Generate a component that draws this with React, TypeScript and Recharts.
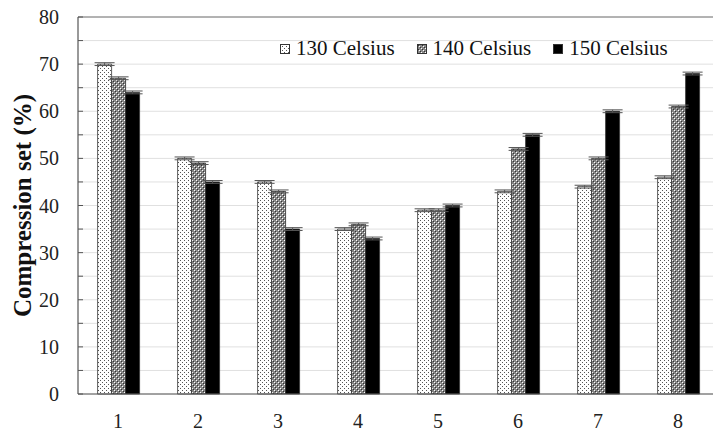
import React from 'react';
import { BarChart, Bar, XAxis, YAxis, CartesianGrid, ErrorBar, Legend, ReferenceLine } from 'recharts';

const samples = ['1', '2', '3', '4', '5', '6', '7', '8'];
const celsius130 = [70, 50, 45, 35, 39, 43, 44, 46];
const celsius140 = [67, 49, 43, 36, 39, 52, 50, 61];
const celsius150 = [64, 45, 35, 33, 40, 55, 60, 68];
const errorSize = [0.3, 0.3, 0.3, 0.3, 0.3, 0.3, 0.3, 0.3];
const yTicks = [0, 5, 10, 15, 20, 25, 30, 35, 40, 45, 50, 55, 60, 65, 70, 75, 80];

const seriesInfo = [
  { key: 't130', name: '130 Celsius', fill: 'url(#dotsLight)' },
  { key: 't140', name: '140 Celsius', fill: 'url(#dotsDense)' },
  { key: 't150', name: '150 Celsius', fill: '#000' },
];

const data = samples.map((s, i) => ({
  sample: s,
  t130: celsius130[i],
  t140: celsius140[i],
  t150: celsius150[i],
  err: errorSize[i],
}));

const FONT = 'Liberation Serif';

const LegendBox = () => (
  <div style={{ display: 'flex', alignItems: 'center', fontFamily: FONT, fontSize: 21, color: '#111' }}>
    {seriesInfo.map((s) => (
      <div key={s.key} style={{ display: 'flex', alignItems: 'center', marginRight: 22 }}>
        <svg width={10} height={10} style={{ marginRight: 6 }}>
          <rect x={0.5} y={0.5} width={9} height={9} fill={s.fill} stroke="#333" />
        </svg>
        <span>{s.name}</span>
      </div>
    ))}
  </div>
);

const App: React.FC = () => {
  return (
    <div style={{ position: 'absolute', left: 0, top: 0, width: 713, height: 438, overflow: 'hidden', background: '#fff' }}>
      <BarChart
        width={718}
        height={438}
        data={data}
        margin={{ top: 17, right: 0, left: 0, bottom: 0 }}
        barCategoryGap="24.5%"
        barGap={0}
      >
        <defs>
          <pattern id="dotsLight" width={4} height={4} patternUnits="userSpaceOnUse">
            <rect width={4} height={4} fill="#fff" />
            <rect x={0} y={0} width={1} height={1} fill="#555" />
            <rect x={2} y={2} width={1} height={1} fill="#555" />
          </pattern>
          <pattern id="dotsDense" width={4} height={4} patternUnits="userSpaceOnUse">
            <rect width={4} height={4} fill="#888" />
            <rect x={0} y={0} width={1} height={1} fill="#fff" />
            <rect x={2} y={2} width={1} height={1} fill="#fff" />
            <rect x={1} y={1} width={1} height={1} fill="#333" />
            <rect x={3} y={3} width={1} height={1} fill="#333" />
          </pattern>
        </defs>
        <CartesianGrid vertical={false} stroke="#e0e0e0" />
        <ReferenceLine y={80} stroke="#777" strokeWidth={1.2} />
        <XAxis
          dataKey="sample"
          height={44}
          tickLine={false}
          tickSize={0}
          axisLine={{ stroke: '#555', strokeWidth: 1.2 }}
          tick={{ fontFamily: FONT, fontSize: 20, fill: '#222' }}
          tickMargin={20}
        />
        <YAxis
          width={78}
          domain={[0, 80]}
          ticks={yTicks}
          interval={0}
          tickFormatter={(v: number) => (v % 10 === 0 ? String(v) : '')}
          axisLine={{ stroke: '#555', strokeWidth: 1.2 }}
          tickLine={{ stroke: '#555' }}
          tickSize={-5}
          tickMargin={24}
          tick={{ fontFamily: FONT, fontSize: 20, fill: '#222' }}
          label={{
            value: 'Compression set (%)',
            angle: -90,
            position: 'insideLeft',
            offset: 22,
            style: { fontFamily: FONT, fontSize: 25, fontWeight: 'bold', fill: '#111', textAnchor: 'middle' },
          }}
        />
        {/* centered + middle so the legend reserves no space from the plot area */}
        <Legend
          verticalAlign="middle"
          align="center"
          layout="horizontal"
          content={<LegendBox />}
          wrapperStyle={{ top: 36, left: 280, width: 430 }}
        />
        {seriesInfo.map((s) => (
          <Bar key={s.key} dataKey={s.key} name={s.name} fill={s.fill} stroke="#333" strokeWidth={0.8} isAnimationActive={false}>
            <ErrorBar dataKey="err" width={10} stroke="#555" strokeWidth={1} direction="y" />
          </Bar>
        ))}
      </BarChart>
    </div>
  );
};

export default App;
